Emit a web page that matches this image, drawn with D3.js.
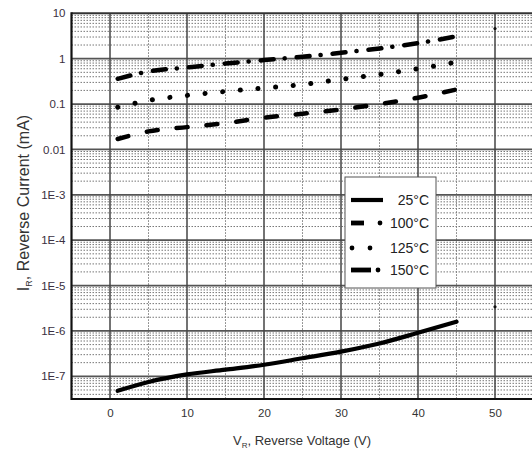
<html>
<head>
<script src="https://d3js.org/d3.v7.min.js"></script>
<style>
    body { margin: 0; background: #fff; }
    text { font-family: "Liberation Sans", Arial, sans-serif; }
</style>
</head>
<body>
<svg id="chart" width="532" height="455"></svg>
<script>
    // values (mA)
    const voltage = [1, 5, 10, 15, 20, 25, 30, 35, 40, 45];
    const i25 = [4.8e-8, 7.5e-8, 1.1e-7, 1.4e-7, 1.8e-7, 2.5e-7, 3.5e-7, 5.3e-7, 9.1e-7, 1.6e-6];
    const i100 = [0.017, 0.025, 0.031, 0.038, 0.05, 0.061, 0.076, 0.1, 0.138, 0.21];
    const i125 = [0.085, 0.12, 0.155, 0.19, 0.225, 0.27, 0.35, 0.45, 0.6, 0.84];
    const i150 = [0.36, 0.52, 0.64, 0.78, 0.93, 1.1, 1.35, 1.68, 2.2, 3.1];
    const strayX = [50, 50];
    const strayY = [4.6, 3.4e-6];
    const xTicks = [0, 10, 20, 30, 40, 50];
    const xMinor = [5, 15, 25, 35, 45];
    const yTicks = [10, 1, 0.1, 0.01, 1e-3, 1e-4, 1e-5, 1e-6, 1e-7];
    const yTickLabels = ["10", "1", "0.1", "0.01", "1E-3", "1E-4", "1E-5", "1E-6", "1E-7"];
    const seriesNames = ["25°C", "100°C", "125°C", "150°C"];

    const svg = d3.select("svg#chart");
    const plotL = 71.5, plotR = 533.5, plotT = 13.3, plotB = 399;

    const xScale = d3.scaleLinear().domain([-5, 55]).range([plotL, plotR]);
    const yScale = d3.scaleLog().domain([Math.pow(10, -7.5), 10]).range([plotB, plotT]);

    // minor log lines (2..9 of every decade)
    let yMinor = [];
    for (let e = -8; e <= 0; e++) {
        for (let m = 2; m <= 9; m++) {
            let v = m * Math.pow(10, e);
            if (v > yScale.domain()[0] && v < 10) yMinor.push(v);
        }
    }

    const grid = svg.append("g");
    grid.selectAll("line.hminor").data(yMinor)
        .join("line")
        .attr("x1", plotL).attr("x2", plotR)
        .attr("y1", d => yScale(d)).attr("y2", d => yScale(d))
        .attr("stroke", "#777")
        .attr("stroke-width", 1)
        .attr("stroke-dasharray", "1.5,1.5");

    grid.selectAll("line.vminor").data(xMinor)
        .join("line")
        .attr("x1", d => xScale(d)).attr("x2", d => xScale(d))
        .attr("y1", plotT).attr("y2", plotB)
        .attr("stroke", "#777")
        .attr("stroke-width", 1)
        .attr("stroke-dasharray", "1.5,1.5");

    grid.selectAll("line.hmajor").data(yTicks.slice(1))
        .join("line")
        .attr("x1", plotL).attr("x2", plotR)
        .attr("y1", d => yScale(d)).attr("y2", d => yScale(d))
        .attr("stroke", "#555")
        .attr("stroke-width", 1.8);

    grid.selectAll("line.vmajor").data(xTicks)
        .join("line")
        .attr("x1", d => xScale(d)).attr("x2", d => xScale(d))
        .attr("y1", plotT).attr("y2", plotB)
        .attr("stroke", "#444")
        .attr("stroke-width", 1.5);

    // frame
    svg.append("line").attr("x1", plotL).attr("x2", plotR).attr("y1", plotT).attr("y2", plotT)
        .attr("stroke", "#333").attr("stroke-width", 2);
    svg.append("line").attr("x1", plotL).attr("x2", plotR).attr("y1", plotB).attr("y2", plotB)
        .attr("stroke", "#111").attr("stroke-width", 2.2);
    svg.append("line").attr("x1", plotL).attr("x2", plotL).attr("y1", plotT - 1).attr("y2", plotB + 1)
        .attr("stroke", "#111").attr("stroke-width", 2.2);

    // axes
    const yAxis = svg.append("g")
        .attr("transform", `translate(${plotL},0)`)
        .call(d3.axisLeft(yScale).tickValues(yTicks)
            .tickFormat((d, i) => yTickLabels[i]).tickSize(0).tickPadding(6));
    yAxis.select(".domain").remove();
    yAxis.selectAll("text").attr("font-size", 11.5).attr("fill", "#3a3040")
        .style("font-family", "'Liberation Sans', Arial, sans-serif");

    const xAxis = svg.append("g")
        .attr("transform", `translate(0,${plotB})`)
        .call(d3.axisBottom(xScale).tickValues(xTicks).tickSize(0).tickPadding(10));
    xAxis.select(".domain").remove();
    xAxis.selectAll("text").attr("font-size", 11.5).attr("fill", "#333")
        .style("font-family", "'Liberation Sans', Arial, sans-serif");

    // curves
    const series = [
        { name: seriesNames[0], values: i25, dash: null, width: 4.2 },
        { name: seriesNames[1], values: i100, dash: "11,19", width: 4.5 },
        { name: seriesNames[2], values: i125, dash: "0.1,17.6", width: 5 },
        { name: seriesNames[3], values: i150, dash: "13,11,0.1,12", width: 4.5 }
    ];

    const line = d3.line()
        .x(d => xScale(d[0]))
        .y(d => yScale(d[1]))
        .curve(d3.curveMonotoneX);

    svg.append("g").selectAll("path").data(series)
        .join("path")
        .attr("d", s => line(voltage.map((v, i) => [v, s.values[i]])))
        .attr("fill", "none")
        .attr("stroke", "#000")
        .attr("stroke-width", s => s.width)
        .attr("stroke-linecap", "round")
        .attr("stroke-dasharray", s => s.dash);

    svg.append("g").selectAll("circle").data(strayX)
        .join("circle")
        .attr("cx", d => xScale(d))
        .attr("cy", (d, i) => yScale(strayY[i]))
        .attr("r", 1.6)
        .attr("fill", "#111");

    // legend
    const lg = svg.append("g").attr("transform", "translate(345,177)");
    lg.append("rect").attr("width", 91).attr("height", 111)
        .attr("fill", "#fff").attr("stroke", "#555").attr("stroke-width", 1);
    const rowY = [23, 46, 71, 93];
    const rows = lg.selectAll("g.row").data(series)
        .join("g").attr("transform", (d, i) => `translate(0,${rowY[i]})`);
    rows.append("text")
        .attr("x", 84).attr("y", 5)
        .attr("text-anchor", "end")
        .attr("font-size", 14)
        .attr("fill", "#222")
        .text(d => d.name);
    // sample glyphs
    const sample = [
        [[6, 38]], [[6, 19], [35, 35]], [[7, 7], [25, 25]], [[6, 26], [33, 33]]
    ];
    rows.each(function (d, i) {
        d3.select(this).selectAll("line").data(sample[i])
            .join("line")
            .attr("x1", p => p[0]).attr("x2", p => p[1])
            .attr("y1", 0).attr("y2", 0)
            .attr("stroke", "#000")
            .attr("stroke-width", i == 0 ? 4.2 : 4.8)
            .attr("stroke-linecap", p => p[0] == p[1] ? "round" : "butt");
    });

    // axis titles
    const xt = svg.append("text")
        .attr("x", 302).attr("y", 445)
        .attr("text-anchor", "middle")
        .attr("font-size", 13)
        .attr("fill", "#333");
    xt.append("tspan").text("V");
    xt.append("tspan").attr("font-size", 8).attr("dy", 3).text("R");
    xt.append("tspan").attr("dy", -3).text(", Reverse Voltage (V)");

    const yt = svg.append("text")
        .attr("transform", "translate(29,203) rotate(-90)")
        .attr("text-anchor", "middle")
        .attr("font-size", 16)
        .attr("fill", "#333");
    yt.append("tspan").text("I");
    yt.append("tspan").attr("font-size", 9).attr("dy", 3).text("R");
    yt.append("tspan").attr("dy", -3).text(", Reverse Current (mA)");
</script>
</body>
</html>
